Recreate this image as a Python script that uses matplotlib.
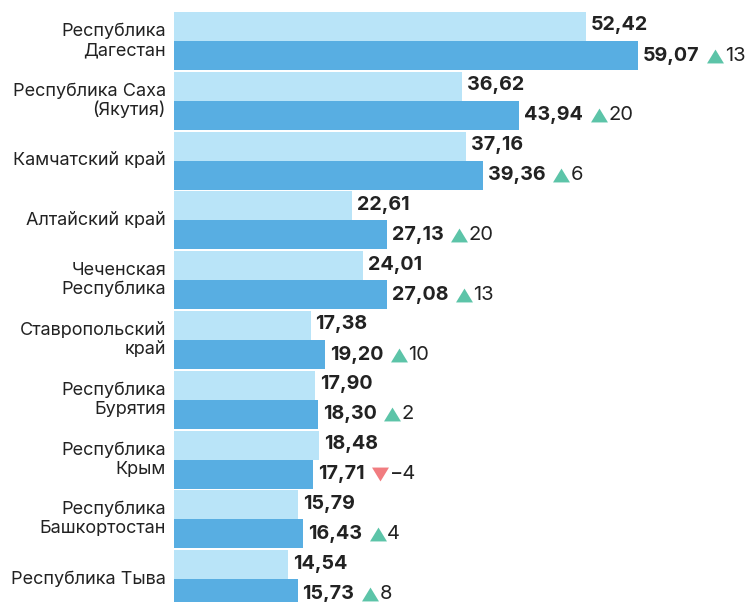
import matplotlib
matplotlib.use("Agg")
import matplotlib.pyplot as plt
import numpy as np

plt.rcParams['font.family'] = ['Inter', 'DejaVu Sans']

# данные
regions = [
    "Республика\nДагестан", "Республика Саха\n(Якутия)", "Камчатский край",
    "Алтайский край", "Чеченская\nРеспублика", "Ставропольский\nкрай",
    "Республика\nБурятия", "Республика\nКрым", "Республика\nБашкортостан",
    "Республика Тыва",
]
prev_vals = [52.42, 36.62, 37.16, 22.61, 24.01, 17.38, 17.90, 18.48, 15.79, 14.54]
curr_vals = [59.07, 43.94, 39.36, 27.13, 27.08, 19.20, 18.30, 17.71, 16.43, 15.73]
changes = [13, 20, 6, 20, 13, 10, 2, -4, 4, 8]

LIGHT = "#b9e4f8"
DARK = "#58aee2"
UP = "#5cc4a8"
DOWN = "#f17c80"
TXT = "#222222"

W, H = 747, 602
fig = plt.figure(figsize=(W / 100, H / 100), dpi=100)
ax = fig.add_axes([174 / W, 0, 1 - 174 / W, 1])

y = np.arange(len(regions))
bh = 0.485
ax.barh(y - bh / 2, prev_vals, height=bh, color=LIGHT)
ax.barh(y + bh / 2, curr_vals, height=bh, color=DARK)

ax.set_xlim(0, (W - 174) / 7.855)
ax.set_ylim((H - 41) / 59.8, -41 / 59.8)
ax.axis('off')

def fmt(v):
    return f"{v:.2f}".replace(".", ",")

tri_up = [(-1, -0.82), (1, -0.82), (0, 0.82)]
tri_down = [(-1, 0.82), (1, 0.82), (0, -0.82)]

fig.canvas.draw()
rend = fig.canvas.get_renderer()
inv = ax.transData.inverted()

for i in range(len(regions)):
    ax.annotate(regions[i], (0, i), xytext=(-8, 0), textcoords='offset pixels',
                ha='right', va='center', fontsize=13, color=TXT, linespacing=1.15)
    ax.annotate(fmt(prev_vals[i]), (prev_vals[i], i - bh / 2), xytext=(5, 1),
                textcoords='offset pixels', ha='left', va='center',
                fontsize=14.2, fontweight='bold', color=TXT)
    t = ax.annotate(fmt(curr_vals[i]), (curr_vals[i], i + bh / 2), xytext=(5, 0),
                    textcoords='offset pixels', ha='left', va='center',
                    fontsize=14.2, fontweight='bold', color=TXT)
    bb = t.get_window_extent(rend)
    bar_end = ax.transData.transform((curr_vals[i], 0))[0]
    ch = changes[i]
    up = ch >= 0
    tx = inv.transform((bb.x1 + 7 + 8.5, 0))[0]
    ax.plot([tx], [i + bh / 2], marker=tri_up if up else tri_down, ms=12.2,
            color=UP if up else DOWN, mew=0, clip_on=False)
    ax.annotate(str(ch).replace("-", "\u2212"), (curr_vals[i], i + bh / 2),
                xytext=(bb.x1 + 7 + 17 + 1 - bar_end, 0), textcoords='offset pixels',
                ha='left', va='center', fontsize=14.5, color=TXT)

fig.savefig("out.png", dpi=100)
